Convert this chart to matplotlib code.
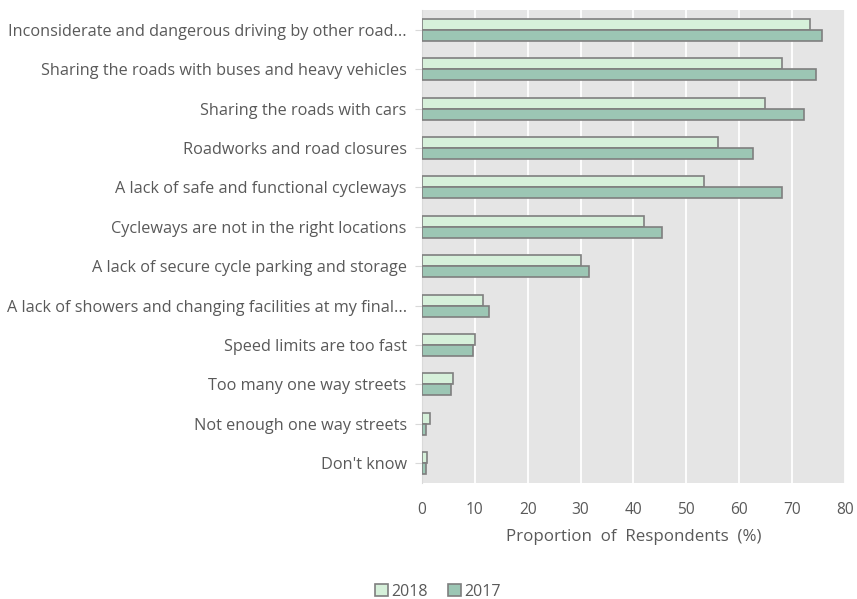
import numpy as np
import matplotlib
matplotlib.use('Agg')
import matplotlib.pyplot as plt

plt.rcParams['font.family'] = ['Open Sans', 'DejaVu Sans']

categories = [
    'Inconsiderate and dangerous driving by other road...',
    'Sharing the roads with buses and heavy vehicles',
    'Sharing the roads with cars',
    'Roadworks and road closures',
    'A lack of safe and functional cycleways',
    'Cycleways are not in the right locations',
    'A lack of secure cycle parking and storage',
    'A lack of showers and changing facilities at my final...',
    'Speed limits are too fast',
    'Too many one way streets',
    'Not enough one way streets',
    "Don't know",
]
vals_2018 = [73.4, 68.0, 64.8, 56.0, 53.4, 42.0, 30.0, 11.5, 10.1, 5.8, 1.5, 0.9]
vals_2017 = [75.7, 74.6, 72.3, 62.6, 68.0, 45.4, 31.5, 12.7, 9.6, 5.5, 0.7, 0.7]
xticks = [0, 10, 20, 30, 40, 50, 60, 70, 80]

txt = '#595959'
c18 = '#d6f0da'
c17 = '#9cc6b4'
edge = '#7f7f7f'

fig = plt.figure(figsize=(8.57, 5.99), dpi=100)
ax = fig.add_axes([0.4924, 0.194, 0.4936, 0.789])
ax.set_facecolor('#e5e5e5')

y = np.arange(len(categories))
h = 0.28
ax.barh(y - h / 2, vals_2018, height=h, color=c18, edgecolor=edge, linewidth=1.2, label='2018', zorder=3)
ax.barh(y + h / 2, vals_2017, height=h, color=c17, edgecolor=edge, linewidth=1.2, label='2017', zorder=3)

ax.set_ylim(len(categories) - 0.5, -0.5)
ax.set_xlim(0, 80)
ax.set_xticks(xticks)
ax.set_yticks(y)
ax.set_yticklabels(categories)
ax.grid(axis='x', color='white', linewidth=1.3, zorder=0)
for s in ['top', 'right', 'bottom']:
    ax.spines[s].set_visible(False)
ax.spines['left'].set_color('#d9d9d9')

ax.tick_params(axis='y', length=5, color='#d9d9d9', labelsize=11.7, labelcolor=txt, pad=6)
ax.tick_params(axis='x', length=0, labelsize=11.2, labelcolor=txt, pad=14)
ax.set_xlabel('Proportion  of  Respondents  (%)', fontsize=12.2, color=txt, labelpad=8)

fig.legend(loc='lower center', bbox_to_anchor=(0.511, -0.025), ncol=2, frameon=False,
           fontsize=11.5, labelcolor=txt, handlelength=0.8, handleheight=0.8,
           handletextpad=0.2, columnspacing=1.3)

fig.savefig('out.png', dpi=100)
